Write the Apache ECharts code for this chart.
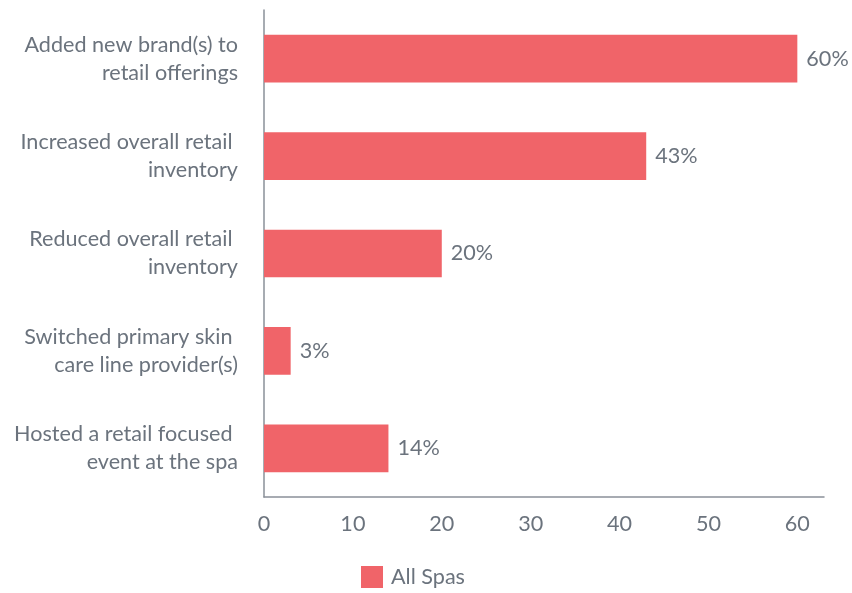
<!DOCTYPE html>
<html>
<head>
<meta charset="utf-8">
<script src="https://cdn.jsdelivr.net/npm/echarts@6/dist/echarts.min.js"></script>
<style>
  html, body { margin: 0; padding: 0; background: #ffffff; }
  #chart { width: 852px; height: 593px; }
</style>
</head>
<body>
<div id="chart"></div>
<script>
// Retail actions taken by spas (share of respondents, %)
const categories = [
  'Added new brand(s) to\nretail offerings',
  'Increased overall retail \ninventory',
  'Reduced overall retail \ninventory',
  'Switched primary skin \ncare line provider(s)',
  'Hosted a retail focused \nevent at the spa'
];
const allSpas = [60, 43, 20, 3, 14];
const seriesName = 'All Spas';

const textColor = '#6b737d';
const axisColor = '#8a9099';
const barColor = '#f06469';
const fontFamily = 'Lato, "Open Sans", sans-serif';
const fontSize = 21.6;

const chart = echarts.init(document.getElementById('chart'));
chart.setOption({
  animation: false,
  textStyle: { fontFamily: fontFamily },
  grid: { left: 264, right: 28, top: 10, bottom: 96, containLabel: false },
  legend: {
    data: [seriesName],
    left: 361,
    top: 566,
    padding: 0,
    itemWidth: 22,
    itemHeight: 22,
    itemGap: 10,
    icon: 'rect',
    textStyle: {
      color: textColor,
      fontSize: fontSize,
      fontFamily: fontFamily,
      padding: [0, 0, 0, 3]
    }
  },
  xAxis: {
    type: 'value',
    min: 0,
    max: 63,
    interval: 10,
    axisLine: { show: true, lineStyle: { color: axisColor, width: 1.5 } },
    axisTick: { show: false },
    splitLine: { show: false },
    axisLabel: {
      color: textColor,
      fontSize: fontSize,
      margin: 16,
      fontFamily: fontFamily,
      showMaxLabel: false
    }
  },
  yAxis: {
    type: 'category',
    inverse: true,
    data: categories,
    axisLine: { show: true, lineStyle: { color: axisColor, width: 1.5 } },
    axisTick: { show: false },
    axisLabel: {
      color: textColor,
      fontSize: fontSize,
      lineHeight: 28,
      margin: 26,
      padding: [4, 0, 0, 0],
      align: 'right',
      fontFamily: fontFamily
    }
  },
  series: [{
    name: seriesName,
    type: 'bar',
    data: allSpas,
    barWidth: '49%',
    itemStyle: { color: barColor },
    label: {
      show: true,
      position: 'right',
      distance: 9,
      color: textColor,
      fontSize: fontSize,
      fontFamily: fontFamily,
      formatter: p => p.value + '%'
    }
  }]
});
</script>
</body>
</html>
